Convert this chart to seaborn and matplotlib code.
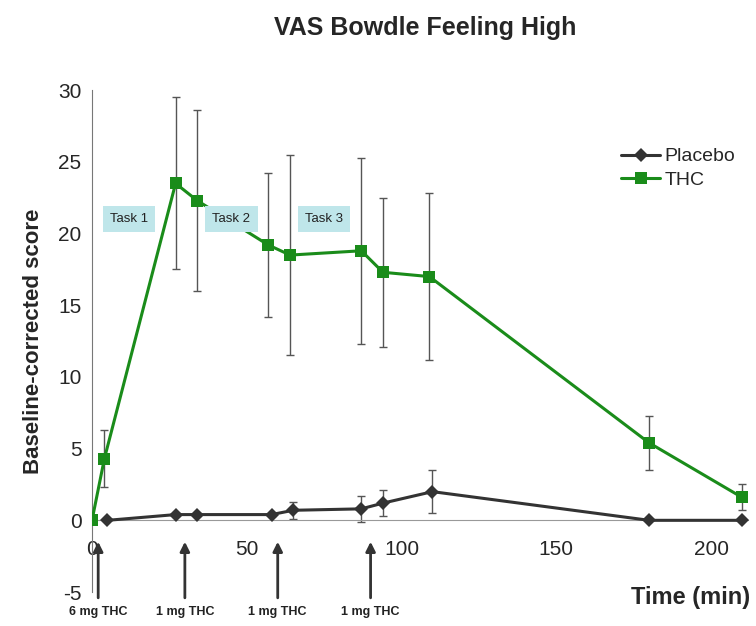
import matplotlib
matplotlib.use("Agg")
import matplotlib.pyplot as plt
import seaborn as sns
import pandas as pd

# data
thc_time = [0, 4, 27, 34, 57, 64, 87, 94, 109, 180, 210]
thc_score = [0, 4.3, 23.5, 22.3, 19.2, 18.5, 18.8, 17.3, 17.0, 5.4, 1.6]
thc_err = [0, 2.0, 6.0, 6.3, 5.0, 7.0, 6.5, 5.2, 5.8, 1.9, 0.9]

pla_time = [5, 27, 34, 58, 65, 87, 94, 110, 180, 210]
pla_score = [0, 0.4, 0.4, 0.4, 0.7, 0.8, 1.2, 2.0, 0, 0]
pla_err = [0, 0.1, 0.1, 0.1, 0.6, 0.9, 0.9, 1.5, 0, 0]

dose_time = [2, 30, 60, 90]
dose_labels = ["6 mg THC", "1 mg THC", "1 mg THC", "1 mg THC"]

task_x = [12, 45, 75]
task_y = [21, 21, 21]
task_labels = ["Task 1", "Task 2", "Task 3"]

sns.set_style("white")
plt.rcParams['font.family'] = ['Liberation Sans', 'DejaVu Sans']
plt.rcParams['axes.unicode_minus'] = False

df = pd.DataFrame({
    'time': pla_time + thc_time,
    'score': pla_score + thc_score,
    'group': ['Placebo'] * len(pla_time) + ['THC'] * len(thc_time),
})

fig = plt.figure(figsize=(7.56, 6.26), dpi=100)
ax = fig.add_axes([0.1217, 0.0543, 0.868, 0.8016])

colors = {'Placebo': '#333333', 'THC': '#1a8c1a'}

# error bars first, behind the lines
ax.errorbar(thc_time, thc_score, yerr=thc_err, fmt='none', ecolor='#555555',
            elinewidth=1, capsize=3, capthick=1, zorder=1)
ax.errorbar(pla_time, pla_score, yerr=pla_err, fmt='none', ecolor='#555555',
            elinewidth=1, capsize=3, capthick=1, zorder=1)

sns.lineplot(data=df, x='time', y='score', hue='group', style='group',
             markers={'Placebo': 'D', 'THC': 's'}, dashes=False,
             palette=colors, linewidth=2.2, markersize=9, markeredgewidth=0,
             ax=ax, zorder=3)
# smaller diamonds for placebo
for line in ax.get_lines():
    if line.get_marker() == 'D':
        line.set_markersize(7.5)

for tx, ty, tl in zip(task_x, task_y, task_labels):
    ax.text(tx, ty, tl, fontsize=9.5, ha='center', va='center', color='#222222',
            bbox=dict(boxstyle='square,pad=0.55', fc='#bfe6ea', ec='none'), zorder=5)

for dx, dl in zip(dose_time, dose_labels):
    ax.annotate('', xy=(dx, -1.3), xytext=(dx, -5.6),
                arrowprops=dict(arrowstyle='-|>', color='#333333', lw=2,
                                mutation_scale=14),
                annotation_clip=False)
    ax.text(dx, -6.4, dl, fontsize=9, fontweight='bold', ha='center', va='center',
            color='#222222', clip_on=False)

ax.set_xlim(0, 212)
ax.set_ylim(-5, 30)
ax.set_yticks(range(-5, 31, 5))
ax.set_xticks([0, 50, 100, 150, 200])
ax.spines['bottom'].set_position(('data', 0))
ax.spines['bottom'].set_color('#999999')
ax.spines['left'].set_color('#777777')
ax.spines['top'].set_visible(False)
ax.spines['right'].set_visible(False)
ax.tick_params(axis='both', labelsize=15, length=4, color='#999999', direction='out')
ax.tick_params(axis='x', pad=10)
ax.set_xlabel('')
ax.set_ylabel('Baseline-corrected score', fontsize=16, fontweight='bold', labelpad=10)

fig.text(0.5625, 0.955, 'VAS Bowdle Feeling High', fontsize=18, fontweight='bold',
         ha='center', va='center')
fig.text(0.913, 0.045, 'Time (min)', fontsize=17, fontweight='bold',
         ha='center', va='center')

leg = ax.legend(loc='upper left', bbox_to_anchor=(0.78, 0.92), frameon=False,
                fontsize=14, handlelength=2.0, handletextpad=0.2, labelspacing=0.3)

fig.savefig('out.png', dpi=100)
